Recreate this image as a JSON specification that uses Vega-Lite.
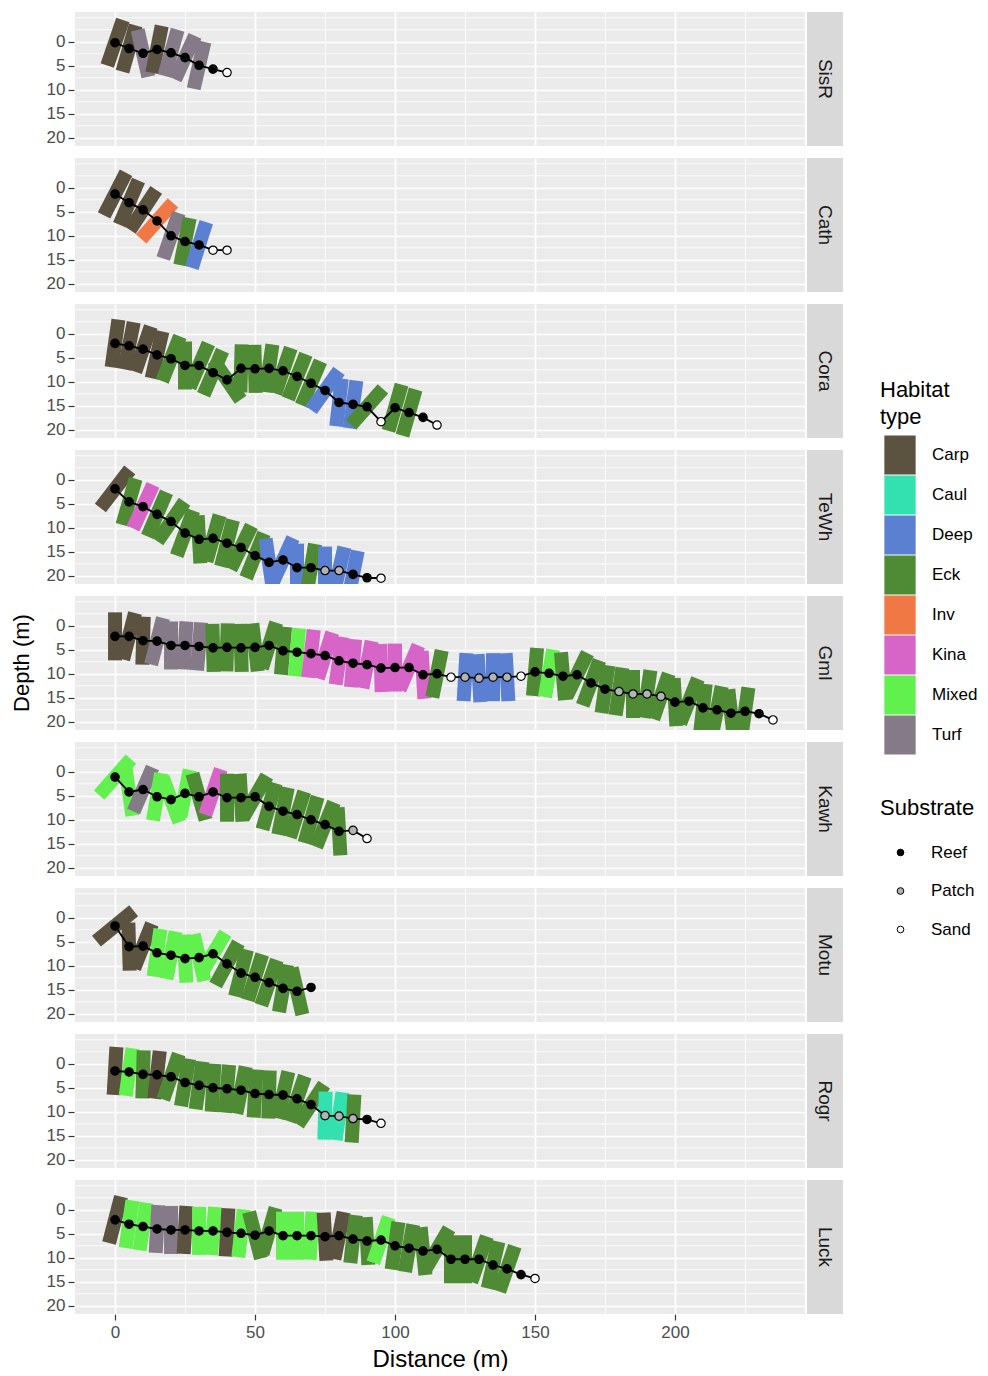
{
  "$schema": "https://vega.github.io/schema/vega-lite/v6.json",
  "background": "white",
  "padding": {"left": 10, "top": 12, "right": 0, "bottom": 0},
  "config": {
    "font": "Liberation Sans",
    "view": {"fill": "#ebebeb", "stroke": null},
    "legend": {"padding": 0, "titleFont": "Liberation Sans", "labelFont": "Liberation Sans", "titleFontWeight": "normal", "titleColor": "black", "labelColor": "black", "titleFontSize": 22, "labelFontSize": 17}
  },
  "data": {"values": [
    {"site":"SisR","dist":0,"depth":0.2,"substrate":"Reef","habitat":"Carp"},
    {"site":"SisR","dist":5,"depth":1.4,"substrate":"Reef","habitat":"Carp"},
    {"site":"SisR","dist":10,"depth":2.4,"substrate":"Reef","habitat":"Turf"},
    {"site":"SisR","dist":15,"depth":1.6,"substrate":"Reef","habitat":"Carp"},
    {"site":"SisR","dist":20,"depth":2.3,"substrate":"Reef","habitat":"Turf"},
    {"site":"SisR","dist":25,"depth":3.3,"substrate":"Reef","habitat":"Turf"},
    {"site":"SisR","dist":30,"depth":4.9,"substrate":"Reef","habitat":"Turf"},
    {"site":"SisR","dist":35,"depth":5.7,"substrate":"Reef","habitat":null},
    {"site":"SisR","dist":40,"depth":6.4,"substrate":"Sand","habitat":null},

    {"site":"Cath","dist":0,"depth":1.3,"substrate":"Reef","habitat":"Carp"},
    {"site":"Cath","dist":5,"depth":3.1,"substrate":"Reef","habitat":"Carp"},
    {"site":"Cath","dist":10,"depth":4.6,"substrate":"Reef","habitat":"Carp"},
    {"site":"Cath","dist":15,"depth":6.9,"substrate":"Reef","habitat":"Inv"},
    {"site":"Cath","dist":20,"depth":10.0,"substrate":"Reef","habitat":"Turf"},
    {"site":"Cath","dist":25,"depth":11.2,"substrate":"Reef","habitat":"Eck"},
    {"site":"Cath","dist":30,"depth":11.9,"substrate":"Reef","habitat":"Deep"},
    {"site":"Cath","dist":35,"depth":13.0,"substrate":"Sand","habitat":null},
    {"site":"Cath","dist":40,"depth":13.0,"substrate":"Sand","habitat":null},

    {"site":"Cora","dist":0,"depth":2.0,"substrate":"Reef","habitat":"Carp"},
    {"site":"Cora","dist":5,"depth":2.5,"substrate":"Reef","habitat":"Carp"},
    {"site":"Cora","dist":10,"depth":3.2,"substrate":"Reef","habitat":"Carp"},
    {"site":"Cora","dist":15,"depth":4.4,"substrate":"Reef","habitat":"Carp"},
    {"site":"Cora","dist":20,"depth":5.2,"substrate":"Reef","habitat":"Eck"},
    {"site":"Cora","dist":25,"depth":6.6,"substrate":"Reef","habitat":"Eck"},
    {"site":"Cora","dist":30,"depth":6.6,"substrate":"Reef","habitat":"Eck"},
    {"site":"Cora","dist":35,"depth":8.1,"substrate":"Reef","habitat":"Eck"},
    {"site":"Cora","dist":40,"depth":9.6,"substrate":"Reef","habitat":"Eck"},
    {"site":"Cora","dist":45,"depth":7.2,"substrate":"Reef","habitat":"Eck"},
    {"site":"Cora","dist":50,"depth":7.3,"substrate":"Reef","habitat":"Eck"},
    {"site":"Cora","dist":55,"depth":7.2,"substrate":"Reef","habitat":"Eck"},
    {"site":"Cora","dist":60,"depth":7.7,"substrate":"Reef","habitat":"Eck"},
    {"site":"Cora","dist":65,"depth":8.9,"substrate":"Reef","habitat":"Eck"},
    {"site":"Cora","dist":70,"depth":10.3,"substrate":"Reef","habitat":"Eck"},
    {"site":"Cora","dist":75,"depth":11.8,"substrate":"Reef","habitat":"Deep"},
    {"site":"Cora","dist":80,"depth":14.3,"substrate":"Reef","habitat":"Deep"},
    {"site":"Cora","dist":85,"depth":14.7,"substrate":"Reef","habitat":"Deep"},
    {"site":"Cora","dist":90,"depth":15.2,"substrate":"Reef","habitat":"Eck"},
    {"site":"Cora","dist":95,"depth":18.3,"substrate":"Sand","habitat":null},
    {"site":"Cora","dist":100,"depth":15.4,"substrate":"Reef","habitat":"Eck"},
    {"site":"Cora","dist":105,"depth":16.4,"substrate":"Reef","habitat":"Eck"},
    {"site":"Cora","dist":110,"depth":17.4,"substrate":"Reef","habitat":null},
    {"site":"Cora","dist":115,"depth":19.0,"substrate":"Sand","habitat":null},

    {"site":"TeWh","dist":0,"depth":1.9,"substrate":"Reef","habitat":"Carp"},
    {"site":"TeWh","dist":5,"depth":4.6,"substrate":"Reef","habitat":"Eck"},
    {"site":"TeWh","dist":10,"depth":5.6,"substrate":"Reef","habitat":"Kina"},
    {"site":"TeWh","dist":15,"depth":7.2,"substrate":"Reef","habitat":"Eck"},
    {"site":"TeWh","dist":20,"depth":8.7,"substrate":"Reef","habitat":"Eck"},
    {"site":"TeWh","dist":25,"depth":11.1,"substrate":"Reef","habitat":"Eck"},
    {"site":"TeWh","dist":30,"depth":12.4,"substrate":"Reef","habitat":"Eck"},
    {"site":"TeWh","dist":35,"depth":12.2,"substrate":"Reef","habitat":"Eck"},
    {"site":"TeWh","dist":40,"depth":13.2,"substrate":"Reef","habitat":"Eck"},
    {"site":"TeWh","dist":45,"depth":14.1,"substrate":"Reef","habitat":"Eck"},
    {"site":"TeWh","dist":50,"depth":15.8,"substrate":"Reef","habitat":"Eck"},
    {"site":"TeWh","dist":55,"depth":17.2,"substrate":"Reef","habitat":"Deep"},
    {"site":"TeWh","dist":60,"depth":16.7,"substrate":"Reef","habitat":"Deep"},
    {"site":"TeWh","dist":65,"depth":18.3,"substrate":"Reef","habitat":"Deep"},
    {"site":"TeWh","dist":70,"depth":18.3,"substrate":"Reef","habitat":"Eck"},
    {"site":"TeWh","dist":75,"depth":18.9,"substrate":"Patch","habitat":"Deep"},
    {"site":"TeWh","dist":80,"depth":18.9,"substrate":"Patch","habitat":"Deep"},
    {"site":"TeWh","dist":85,"depth":19.7,"substrate":"Reef","habitat":"Deep"},
    {"site":"TeWh","dist":90,"depth":20.4,"substrate":"Reef","habitat":null},
    {"site":"TeWh","dist":95,"depth":20.5,"substrate":"Sand","habitat":null},

    {"site":"Gml","dist":0,"depth":2.2,"substrate":"Reef","habitat":"Carp"},
    {"site":"Gml","dist":5,"depth":2.2,"substrate":"Reef","habitat":"Carp"},
    {"site":"Gml","dist":10,"depth":3.1,"substrate":"Reef","habitat":"Carp"},
    {"site":"Gml","dist":15,"depth":3.2,"substrate":"Reef","habitat":"Turf"},
    {"site":"Gml","dist":20,"depth":4.1,"substrate":"Reef","habitat":"Turf"},
    {"site":"Gml","dist":25,"depth":4.1,"substrate":"Reef","habitat":"Turf"},
    {"site":"Gml","dist":30,"depth":4.3,"substrate":"Reef","habitat":"Turf"},
    {"site":"Gml","dist":35,"depth":4.6,"substrate":"Reef","habitat":"Eck"},
    {"site":"Gml","dist":40,"depth":4.5,"substrate":"Reef","habitat":"Eck"},
    {"site":"Gml","dist":45,"depth":4.6,"substrate":"Reef","habitat":"Eck"},
    {"site":"Gml","dist":50,"depth":4.5,"substrate":"Reef","habitat":"Eck"},
    {"site":"Gml","dist":55,"depth":4.1,"substrate":"Reef","habitat":"Eck"},
    {"site":"Gml","dist":60,"depth":5.2,"substrate":"Reef","habitat":"Eck"},
    {"site":"Gml","dist":65,"depth":5.5,"substrate":"Reef","habitat":"Mixed"},
    {"site":"Gml","dist":70,"depth":5.8,"substrate":"Reef","habitat":"Kina"},
    {"site":"Gml","dist":75,"depth":6.2,"substrate":"Reef","habitat":"Kina"},
    {"site":"Gml","dist":80,"depth":7.3,"substrate":"Reef","habitat":"Kina"},
    {"site":"Gml","dist":85,"depth":7.8,"substrate":"Reef","habitat":"Kina"},
    {"site":"Gml","dist":90,"depth":8.1,"substrate":"Reef","habitat":"Kina"},
    {"site":"Gml","dist":95,"depth":8.8,"substrate":"Reef","habitat":"Kina"},
    {"site":"Gml","dist":100,"depth":8.7,"substrate":"Reef","habitat":"Kina"},
    {"site":"Gml","dist":105,"depth":8.7,"substrate":"Reef","habitat":"Kina"},
    {"site":"Gml","dist":110,"depth":10.2,"substrate":"Reef","habitat":"Kina"},
    {"site":"Gml","dist":115,"depth":10.0,"substrate":"Reef","habitat":"Eck"},
    {"site":"Gml","dist":120,"depth":10.7,"substrate":"Sand","habitat":null},
    {"site":"Gml","dist":125,"depth":10.7,"substrate":"Patch","habitat":"Deep"},
    {"site":"Gml","dist":130,"depth":10.9,"substrate":"Patch","habitat":"Deep"},
    {"site":"Gml","dist":135,"depth":10.7,"substrate":"Patch","habitat":"Deep"},
    {"site":"Gml","dist":140,"depth":10.7,"substrate":"Patch","habitat":"Deep"},
    {"site":"Gml","dist":145,"depth":10.5,"substrate":"Sand","habitat":null},
    {"site":"Gml","dist":150,"depth":9.6,"substrate":"Reef","habitat":"Eck"},
    {"site":"Gml","dist":155,"depth":9.9,"substrate":"Reef","habitat":"Mixed"},
    {"site":"Gml","dist":160,"depth":10.5,"substrate":"Reef","habitat":"Eck"},
    {"site":"Gml","dist":165,"depth":10.2,"substrate":"Reef","habitat":"Eck"},
    {"site":"Gml","dist":170,"depth":11.9,"substrate":"Reef","habitat":"Eck"},
    {"site":"Gml","dist":175,"depth":13.2,"substrate":"Reef","habitat":"Eck"},
    {"site":"Gml","dist":180,"depth":13.7,"substrate":"Patch","habitat":"Eck"},
    {"site":"Gml","dist":185,"depth":14.2,"substrate":"Patch","habitat":"Eck"},
    {"site":"Gml","dist":190,"depth":14.2,"substrate":"Patch","habitat":"Eck"},
    {"site":"Gml","dist":195,"depth":14.7,"substrate":"Patch","habitat":"Eck"},
    {"site":"Gml","dist":200,"depth":15.9,"substrate":"Reef","habitat":"Eck"},
    {"site":"Gml","dist":205,"depth":15.7,"substrate":"Reef","habitat":"Eck"},
    {"site":"Gml","dist":210,"depth":17.1,"substrate":"Reef","habitat":"Eck"},
    {"site":"Gml","dist":215,"depth":17.5,"substrate":"Reef","habitat":"Eck"},
    {"site":"Gml","dist":220,"depth":18.2,"substrate":"Reef","habitat":"Eck"},
    {"site":"Gml","dist":225,"depth":17.8,"substrate":"Reef","habitat":"Eck"},
    {"site":"Gml","dist":230,"depth":18.3,"substrate":"Reef","habitat":null},
    {"site":"Gml","dist":235,"depth":19.6,"substrate":"Sand","habitat":null},

    {"site":"Kawh","dist":0,"depth":1.1,"substrate":"Reef","habitat":"Mixed"},
    {"site":"Kawh","dist":5,"depth":4.2,"substrate":"Reef","habitat":"Mixed"},
    {"site":"Kawh","dist":10,"depth":3.7,"substrate":"Reef","habitat":"Turf"},
    {"site":"Kawh","dist":15,"depth":5.2,"substrate":"Reef","habitat":"Mixed"},
    {"site":"Kawh","dist":20,"depth":5.8,"substrate":"Reef","habitat":"Mixed"},
    {"site":"Kawh","dist":25,"depth":4.5,"substrate":"Reef","habitat":"Mixed"},
    {"site":"Kawh","dist":30,"depth":5.2,"substrate":"Reef","habitat":"Eck"},
    {"site":"Kawh","dist":35,"depth":4.2,"substrate":"Reef","habitat":"Kina"},
    {"site":"Kawh","dist":40,"depth":5.4,"substrate":"Reef","habitat":"Eck"},
    {"site":"Kawh","dist":45,"depth":5.4,"substrate":"Reef","habitat":"Eck"},
    {"site":"Kawh","dist":50,"depth":5.2,"substrate":"Reef","habitat":"Eck"},
    {"site":"Kawh","dist":55,"depth":7.2,"substrate":"Reef","habitat":"Eck"},
    {"site":"Kawh","dist":60,"depth":8.2,"substrate":"Reef","habitat":"Eck"},
    {"site":"Kawh","dist":65,"depth":8.9,"substrate":"Reef","habitat":"Eck"},
    {"site":"Kawh","dist":70,"depth":10.0,"substrate":"Reef","habitat":"Eck"},
    {"site":"Kawh","dist":75,"depth":11.0,"substrate":"Reef","habitat":"Eck"},
    {"site":"Kawh","dist":80,"depth":12.4,"substrate":"Reef","habitat":"Eck"},
    {"site":"Kawh","dist":85,"depth":12.2,"substrate":"Patch","habitat":null},
    {"site":"Kawh","dist":90,"depth":13.9,"substrate":"Sand","habitat":null},

    {"site":"Motu","dist":0,"depth":1.7,"substrate":"Reef","habitat":"Carp"},
    {"site":"Motu","dist":5,"depth":6.0,"substrate":"Reef","habitat":"Carp"},
    {"site":"Motu","dist":10,"depth":5.9,"substrate":"Reef","habitat":"Carp"},
    {"site":"Motu","dist":15,"depth":7.3,"substrate":"Reef","habitat":"Mixed"},
    {"site":"Motu","dist":20,"depth":7.8,"substrate":"Reef","habitat":"Mixed"},
    {"site":"Motu","dist":25,"depth":8.5,"substrate":"Reef","habitat":"Mixed"},
    {"site":"Motu","dist":30,"depth":8.3,"substrate":"Reef","habitat":"Mixed"},
    {"site":"Motu","dist":35,"depth":7.5,"substrate":"Reef","habitat":"Mixed"},
    {"site":"Motu","dist":40,"depth":9.6,"substrate":"Reef","habitat":"Eck"},
    {"site":"Motu","dist":45,"depth":11.5,"substrate":"Reef","habitat":"Eck"},
    {"site":"Motu","dist":50,"depth":12.4,"substrate":"Reef","habitat":"Eck"},
    {"site":"Motu","dist":55,"depth":13.5,"substrate":"Reef","habitat":"Eck"},
    {"site":"Motu","dist":60,"depth":14.7,"substrate":"Reef","habitat":"Eck"},
    {"site":"Motu","dist":65,"depth":15.3,"substrate":"Reef","habitat":"Eck"},
    {"site":"Motu","dist":70,"depth":14.5,"substrate":"Reef","habitat":null},

    {"site":"Rogr","dist":0,"depth":1.5,"substrate":"Reef","habitat":"Carp"},
    {"site":"Rogr","dist":5,"depth":1.7,"substrate":"Reef","habitat":"Mixed"},
    {"site":"Rogr","dist":10,"depth":2.2,"substrate":"Reef","habitat":"Eck"},
    {"site":"Rogr","dist":15,"depth":2.3,"substrate":"Reef","habitat":"Carp"},
    {"site":"Rogr","dist":20,"depth":2.7,"substrate":"Reef","habitat":"Eck"},
    {"site":"Rogr","dist":25,"depth":3.9,"substrate":"Reef","habitat":"Eck"},
    {"site":"Rogr","dist":30,"depth":4.5,"substrate":"Reef","habitat":"Eck"},
    {"site":"Rogr","dist":35,"depth":5.0,"substrate":"Reef","habitat":"Eck"},
    {"site":"Rogr","dist":40,"depth":5.2,"substrate":"Reef","habitat":"Eck"},
    {"site":"Rogr","dist":45,"depth":5.5,"substrate":"Reef","habitat":"Eck"},
    {"site":"Rogr","dist":50,"depth":6.2,"substrate":"Reef","habitat":"Eck"},
    {"site":"Rogr","dist":55,"depth":6.4,"substrate":"Reef","habitat":"Eck"},
    {"site":"Rogr","dist":60,"depth":6.5,"substrate":"Reef","habitat":"Eck"},
    {"site":"Rogr","dist":65,"depth":7.3,"substrate":"Reef","habitat":"Eck"},
    {"site":"Rogr","dist":70,"depth":8.5,"substrate":"Reef","habitat":"Eck"},
    {"site":"Rogr","dist":75,"depth":10.8,"substrate":"Patch","habitat":"Caul"},
    {"site":"Rogr","dist":80,"depth":10.9,"substrate":"Patch","habitat":"Caul"},
    {"site":"Rogr","dist":85,"depth":11.4,"substrate":"Patch","habitat":"Eck"},
    {"site":"Rogr","dist":90,"depth":11.6,"substrate":"Reef","habitat":null},
    {"site":"Rogr","dist":95,"depth":12.4,"substrate":"Sand","habitat":null},

    {"site":"Luck","dist":0,"depth":2.1,"substrate":"Reef","habitat":"Carp"},
    {"site":"Luck","dist":5,"depth":3.0,"substrate":"Reef","habitat":"Mixed"},
    {"site":"Luck","dist":10,"depth":3.5,"substrate":"Reef","habitat":"Mixed"},
    {"site":"Luck","dist":15,"depth":4.0,"substrate":"Reef","habitat":"Turf"},
    {"site":"Luck","dist":20,"depth":4.2,"substrate":"Reef","habitat":"Turf"},
    {"site":"Luck","dist":25,"depth":4.2,"substrate":"Reef","habitat":"Carp"},
    {"site":"Luck","dist":30,"depth":4.4,"substrate":"Reef","habitat":"Mixed"},
    {"site":"Luck","dist":35,"depth":4.4,"substrate":"Reef","habitat":"Mixed"},
    {"site":"Luck","dist":40,"depth":4.7,"substrate":"Reef","habitat":"Carp"},
    {"site":"Luck","dist":45,"depth":4.9,"substrate":"Reef","habitat":"Mixed"},
    {"site":"Luck","dist":50,"depth":5.3,"substrate":"Reef","habitat":"Eck"},
    {"site":"Luck","dist":55,"depth":4.4,"substrate":"Reef","habitat":"Eck"},
    {"site":"Luck","dist":60,"depth":5.4,"substrate":"Reef","habitat":"Mixed"},
    {"site":"Luck","dist":65,"depth":5.4,"substrate":"Reef","habitat":"Mixed"},
    {"site":"Luck","dist":70,"depth":5.4,"substrate":"Reef","habitat":"Mixed"},
    {"site":"Luck","dist":75,"depth":5.6,"substrate":"Reef","habitat":"Carp"},
    {"site":"Luck","dist":80,"depth":5.4,"substrate":"Reef","habitat":"Carp"},
    {"site":"Luck","dist":85,"depth":6.1,"substrate":"Reef","habitat":"Eck"},
    {"site":"Luck","dist":90,"depth":6.5,"substrate":"Reef","habitat":"Eck"},
    {"site":"Luck","dist":95,"depth":6.3,"substrate":"Reef","habitat":"Mixed"},
    {"site":"Luck","dist":100,"depth":7.5,"substrate":"Reef","habitat":"Eck"},
    {"site":"Luck","dist":105,"depth":8.0,"substrate":"Reef","habitat":"Eck"},
    {"site":"Luck","dist":110,"depth":8.6,"substrate":"Reef","habitat":"Eck"},
    {"site":"Luck","dist":115,"depth":8.25,"substrate":"Reef","habitat":"Eck"},
    {"site":"Luck","dist":120,"depth":10.3,"substrate":"Reef","habitat":"Eck"},
    {"site":"Luck","dist":125,"depth":10.3,"substrate":"Reef","habitat":"Eck"},
    {"site":"Luck","dist":130,"depth":10.3,"substrate":"Reef","habitat":"Eck"},
    {"site":"Luck","dist":135,"depth":11.5,"substrate":"Reef","habitat":"Eck"},
    {"site":"Luck","dist":140,"depth":12.3,"substrate":"Reef","habitat":"Eck"},
    {"site":"Luck","dist":145,"depth":13.5,"substrate":"Reef","habitat":null},
    {"site":"Luck","dist":150,"depth":14.3,"substrate":"Sand","habitat":null}
  ]},
  "transform": [
    {"window": [{"op": "lead", "field": "depth", "as": "nextDepth"}, {"op": "lead", "field": "dist", "as": "nextDist"}], "sort": [{"field": "dist"}], "groupby": ["site"]},
    {"calculate": "isValid(datum.nextDepth) ? atan2((datum.nextDepth - datum.depth) * 4.0, (datum.nextDist - datum.dist) * 2.8) * 180 / PI : 0", "as": "tilt"}
  ],
  "facet": {
    "row": {
      "field": "site", "type": "nominal",
      "sort": ["SisR", "Cath", "Cora", "TeWh", "Gml", "Kawh", "Motu", "Rogr", "Luck"],
      "header": {"labels": false, "title": "Depth (m)", "titleOrient": "left", "titleFontSize": 22, "titleFontWeight": "normal", "titleColor": "black", "titleFont": "Liberation Sans", "titlePadding": 2}
    }
  },
  "spacing": 12,
  "spec": {
    "width": 768,
    "height": 134,
    "layer": [
      {"transform": [{"aggregate": [{"op": "count", "as": "n"}], "groupby": ["site"]}], "mark": {"type": "rule", "color": "white", "strokeWidth": 0.8}, "encoding": {"y": {"datum": -5}}},
      {"transform": [{"aggregate": [{"op": "count", "as": "n"}], "groupby": ["site"]}], "mark": {"type": "rule", "color": "white", "strokeWidth": 0.8}, "encoding": {"y": {"datum": -2.5}}},
      {"transform": [{"aggregate": [{"op": "count", "as": "n"}], "groupby": ["site"]}], "mark": {"type": "rule", "color": "white", "strokeWidth": 0.8}, "encoding": {"y": {"datum": 2.5}}},
      {"transform": [{"aggregate": [{"op": "count", "as": "n"}], "groupby": ["site"]}], "mark": {"type": "rule", "color": "white", "strokeWidth": 0.8}, "encoding": {"y": {"datum": 7.5}}},
      {"transform": [{"aggregate": [{"op": "count", "as": "n"}], "groupby": ["site"]}], "mark": {"type": "rule", "color": "white", "strokeWidth": 0.8}, "encoding": {"y": {"datum": 12.5}}},
      {"transform": [{"aggregate": [{"op": "count", "as": "n"}], "groupby": ["site"]}], "mark": {"type": "rule", "color": "white", "strokeWidth": 0.8}, "encoding": {"y": {"datum": 17.5}}},
      {
        "transform": [{"aggregate": [{"op": "count", "as": "n"}], "groupby": ["site"]}],
        "mark": {"type": "rect", "fill": "#d9d9d9"},
        "encoding": {"x": {"datum": 247.1}, "x2": {"datum": 260}, "y": {"datum": -6.2}, "y2": {"datum": 21.7}}
      },
      {
        "transform": [{"aggregate": [{"op": "count", "as": "n"}], "groupby": ["site"]}],
        "mark": {"type": "rect", "fill": "white"},
        "encoding": {"x": {"datum": 246.4}, "x2": {"datum": 247.1}, "y": {"datum": -6.2}, "y2": {"datum": 21.7}}
      },
      {
        "transform": [{"filter": "datum.habitat != null"}],
        "mark": {"type": "point", "shape": "M-0.2917,-1L0.2917,-1L0.2917,1L-0.2917,1Z", "filled": true, "size": 2304, "opacity": 1, "strokeWidth": 0, "clip": true},
        "encoding": {
          "x": {"field": "dist", "type": "quantitative",
            "scale": {"domain": [-14.3, 260], "nice": false, "zero": false},
            "axis": {"title": "Distance (m)", "titleFontSize": 24, "titleFontWeight": "normal", "titleColor": "black", "titleFont": "Liberation Sans", "titleX": 365, "titlePadding": 7,
              "values": [0, 25, 50, 75, 100, 125, 150, 175, 200, 225], "tickCount": 30,
              "labelExpr": "datum.value % 50 === 0 ? datum.label : ''",
              "labelFontSize": 17, "labelColor": "#4d4d4d", "labelFont": "Liberation Sans", "labelFlush": false, "labelOverlap": false, "labelPadding": 4,
              "tickColor": "#333333", "tickSize": 6, "tickWidth": 1.2,
              "tickOpacity": {"condition": {"test": "datum.value % 50 === 0", "value": 1}, "value": 0},
              "domain": false, "grid": true, "gridColor": "white",
              "gridWidth": {"condition": {"test": "datum.value % 50 === 0", "value": 1.7}, "value": 0.8}}},
          "y": {"field": "depth", "type": "quantitative",
            "scale": {"domain": [-6.2, 21.7], "reverse": true, "nice": false, "zero": false},
            "axis": {"title": null,
              "values": [0, 5, 10, 15, 20], "tickCount": 30,
              "labelFontSize": 17, "labelColor": "#4d4d4d", "labelFont": "Liberation Sans", "labelFlush": false, "labelOverlap": false, "labelPadding": 3,
              "tickColor": "#333333", "tickSize": 6, "tickWidth": 1.2,
              "domain": false, "grid": true, "gridColor": "white", "gridWidth": 1.7}},
          "color": {"field": "habitat", "type": "nominal",
            "scale": {"domain": ["Carp", "Caul", "Deep", "Eck", "Inv", "Kina", "Mixed", "Turf"],
                      "range": ["#5b5240", "#33e0b0", "#5b80d2", "#4f8a35", "#f07845", "#d765c8", "#62f04e", "#857a88"]},
            "legend": {"title": ["Habitat", "type"], "orient": "none", "legendX": 805, "legendY": 368,
              "symbolType": "M-0.8,-1L0.8,-1L0.8,1L-0.8,1Z", "symbolSize": 1530, "symbolStrokeWidth": 0, "symbolOpacity": 1,
              "rowPadding": 0, "labelOffset": 12, "titlePadding": 6, "titleLineHeight": 27}},
          "angle": {"field": "tilt", "type": "quantitative", "scale": null}
        }
      },
      {
        "mark": {"type": "line", "color": "black", "strokeWidth": 1.8, "clip": true},
        "encoding": {
          "x": {"field": "dist", "type": "quantitative"},
          "y": {"field": "depth", "type": "quantitative"},
          "order": {"field": "dist", "type": "quantitative"}
        }
      },
      {
        "mark": {"type": "point", "shape": "circle", "filled": true, "size": 70, "stroke": "black", "strokeWidth": 1.2, "opacity": 1, "clip": true},
        "encoding": {
          "x": {"field": "dist", "type": "quantitative"},
          "y": {"field": "depth", "type": "quantitative"},
          "fill": {"field": "substrate", "type": "nominal",
            "scale": {"domain": ["Reef", "Patch", "Sand"], "range": ["#000000", "#b3b3b3", "#ffffff"]},
            "legend": {"title": "Substrate", "orient": "none", "legendX": 805, "legendY": 786,
              "symbolType": "circle", "symbolSize": 45, "symbolStrokeColor": "black", "symbolStrokeWidth": 1, "symbolOpacity": 1,
              "symbolOffset": 12, "rowPadding": 20.5, "labelOffset": 22, "titlePadding": 24}}
        }
      },
      {
        "transform": [{"aggregate": [{"op": "count", "as": "n"}], "groupby": ["site"]}],
        "mark": {"type": "text", "angle": 90, "fontSize": 19, "color": "#1a1a1a", "align": "center", "baseline": "middle", "font": "Liberation Sans"},
        "encoding": {"x": {"datum": 253.6}, "y": {"datum": 7.75}, "text": {"field": "site", "type": "nominal"}}
      }
    ]
  }
}
